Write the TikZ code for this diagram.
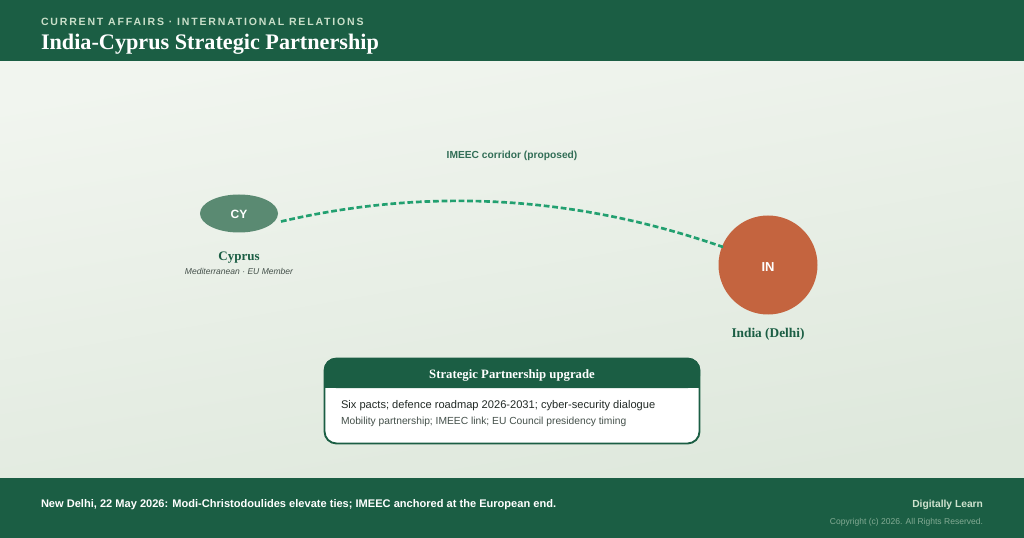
\documentclass[tikz,border=0pt]{standalone}
\usepackage{fontspec}
\setmainfont{Liberation Serif}
\setsansfont{Liberation Sans}
\usetikzlibrary{calc,shapes.geometric}
\definecolor{dgreen}{HTML}{1B5E44}
\definecolor{midgreen}{HTML}{5A8A72}
\definecolor{rust}{HTML}{C4643F}
\definecolor{dashgreen}{HTML}{22A070}
\definecolor{kicker}{HTML}{C9DFC9}
\definecolor{bgtop}{HTML}{F1F5EF}
\definecolor{bgbot}{HTML}{DEE8DC}
\definecolor{inktxt}{HTML}{222A26}
\definecolor{subtxt}{HTML}{44504A}
\tikzset{
  x=0.75pt,y=-0.75pt,
  lbl/.style={inner sep=0pt,outer sep=0pt},
  sans/.style={lbl,font=\sffamily},
}
\begin{document}
\begin{tikzpicture}
\useasboundingbox (0,0) rectangle (1024,538);
\shade[top color=bgtop,bottom color=bgbot,shading angle=10] (0,61) rectangle (1024,478);
\fill[dgreen] (0,0) rectangle (1024,61);
\fill[dgreen] (0,478) rectangle (1024,538);
\node[sans,anchor=base west,text=kicker] (kick) at (41,26) {\fontsize{7.9pt}{9pt}\selectfont\bfseries\addfontfeature{LetterSpace=17.3}CURRENT AFFAIRS · INTERNATIONAL RELATIONS};
\node[lbl,anchor=base west,text=white] (title) at (41,50) {\fontsize{16.65pt}{18pt}\selectfont\bfseries India-Cyprus Strategic Partnership};
\node[sans,anchor=base,text=dgreen!90!white] (corr) at (512,158.5) {\fontsize{7.67pt}{9pt}\selectfont\bfseries IMEEC corridor (proposed)};
\node[ellipse,fill=midgreen,minimum width=58.5pt,minimum height=28.5pt,inner sep=0pt] (cy) at (239,213.5) {};
\node[circle,fill=rust,minimum size=74.25pt,inner sep=0pt] (in) at (768,265) {};
\node[sans,anchor=base,text=white,font=\sffamily\bfseries\fontsize{9pt}{10pt}\selectfont] (cyt) at (239,219) {CY};
\node[sans,anchor=base,text=white,font=\sffamily\bfseries\fontsize{9.75pt}{11pt}\selectfont] (int) at (768,272) {IN};
\coordinate (cstart) at ($(cy.center)+(42,8)$);
\coordinate (cend) at ($(in.center)+(-45,-18)$);
\draw[dashgreen,line width=2pt,dash pattern=on 4.3pt off 2.1pt] (cstart) .. controls ($(cstart)+(147.3,-34.3)$) and ($(cend)+(-147.3,-51.3)$) .. (cend);
\node[lbl,anchor=base,text=dgreen] (cyl) at (239,261) {\fontsize{9.75pt}{11pt}\selectfont\bfseries Cyprus};
\node[sans,anchor=base,text=subtxt] (cys) at (239,275) {\fontsize{6.4pt}{8pt}\selectfont\itshape Mediterranean · EU Member};
\node[lbl,anchor=base,text=dgreen] (inl) at (768,337) {\fontsize{10pt}{11pt}\selectfont\bfseries India (Delhi)};
% card
\path[fill=white,draw=dgreen,line width=1.4pt,rounded corners=9pt] (324.5,358.5) rectangle (699.5,443.5);
\path[fill=dgreen,rounded corners=9pt] (324,358) -- (700,358) -- (700,388) -- (324,388) -- cycle;
\fill[dgreen] (324,375) rectangle (700,388);
\node[lbl,anchor=base,text=white] (cardh) at (512,378) {\fontsize{9.55pt}{11pt}\selectfont\bfseries Strategic Partnership upgrade};
\node[sans,anchor=base west,text=inktxt] (l1) at (341,408) {\fontsize{8.33pt}{10pt}\selectfont Six pacts; defence roadmap 2026-2031; cyber-security dialogue};
\node[sans,anchor=base west,text=subtxt] (l2) at (341,424.5) {\fontsize{7.7pt}{9pt}\selectfont Mobility partnership; IMEEC link; EU Council presidency timing};
\node[sans,anchor=base west,text=white] (foot) at (41,507) {\fontsize{8.3pt}{10pt}\selectfont\bfseries New Delhi, 22 May 2026: Modi-Christodoulides elevate ties; IMEEC anchored at the European end.};
\node[sans,anchor=base east,text=kicker!90!white] (brand) at (983,507) {\fontsize{7.7pt}{9pt}\selectfont\bfseries Digitally Learn};
\node[sans,anchor=base east,text=kicker!60!dgreen] (copy) at (983,524.5) {\fontsize{6.4pt}{8pt}\selectfont Copyright (c) 2026. All Rights Reserved.};
\end{tikzpicture}
\end{document}
